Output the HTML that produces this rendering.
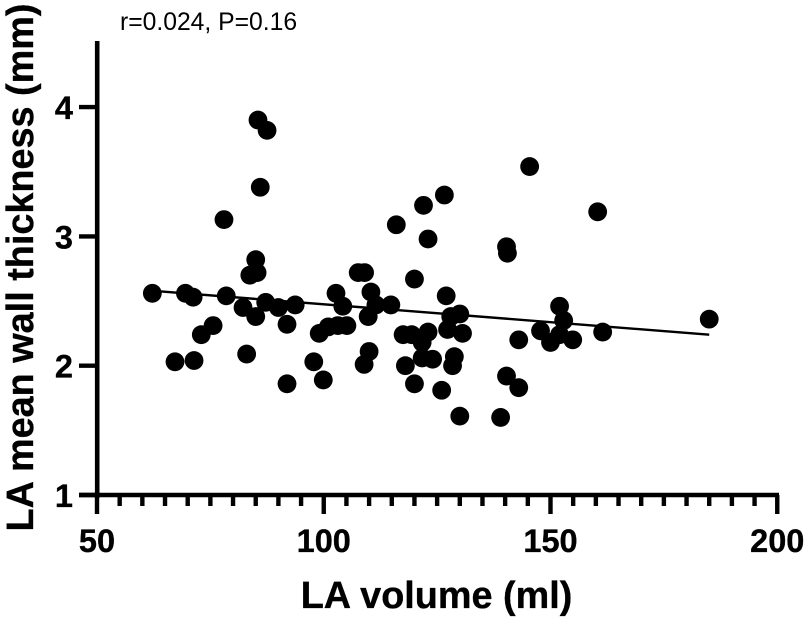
<!DOCTYPE html>
<html lang="en">
<head>
<meta charset="utf-8">
<title>LA mean wall thickness vs LA volume</title>
<style>
html,body{margin:0;padding:0;background:#fff;width:807px;height:622px;overflow:hidden}
svg{display:block}
text{font-family:"Liberation Sans",Arial,sans-serif;fill:#000}
.b{font-weight:bold;stroke:#000;stroke-width:.35px}
</style>
</head>
<body>
<svg id="chart" xmlns="http://www.w3.org/2000/svg" width="807" height="622" viewBox="0 0 807 622">
  <rect width="807" height="622" fill="#fff"/>
  <text x="120" y="30" font-size="24.7">r=0.024, P=0.16</text>
  <text class="b" font-size="37.8" text-anchor="middle" transform="translate(33,267.5) rotate(-90)">LA mean wall thickness (mm)</text>
  <text class="b" font-size="37.8" text-anchor="middle" x="436.5" y="608">LA volume (ml)</text>
  <g id="marks"></g>
  <g id="axes"></g>
</svg>
<script>
const xTickLabels = [50, 100, 150, 200];
const yTickLabels = [1, 2, 3, 4];
const xVolume = [62.2,67.2,69.5,71.2,71.4,73,75.6,78,78.5,82.2,83,83.7,85.3,85,85,85.5,86,87.2,87.5,90,91.9,91.9,93.7,97.8,99,99.9,101,102.7,103.1,104.2,105.1,107.6,109,108.9,109.8,110,110.4,111.5,114.8,116,117.5,118,119.4,120,120,121.7,122,121.7,123,123,124,126,126.6,127,127.3,128,128.4,128.8,130,130,130.6,139,140.3,140.5,140.3,143,143,145.4,147.8,150,152,152.9,152,154.9,160.4,161.5,185];
const yThickness = [2.56,2.03,2.56,2.53,2.04,2.24,2.31,3.13,2.54,2.45,2.09,2.70,2.72,2.82,2.38,3.90,3.38,2.49,3.82,2.45,2.32,1.86,2.47,2.03,2.25,1.89,2.30,2.56,2.31,2.46,2.31,2.72,2.72,2.01,2.38,2.11,2.57,2.47,2.47,3.09,2.24,2.00,2.24,2.67,1.86,2.18,3.24,2.06,2.98,2.26,2.05,1.81,3.32,2.54,2.28,2.38,2.00,2.07,2.40,1.61,2.25,1.60,2.92,2.87,1.92,2.20,1.83,3.54,2.27,2.18,2.46,2.35,2.24,2.20,3.19,2.26,2.36];
const fitX = [62, 185];
const fitY = [2.58, 2.24];

const NS = 'http://www.w3.org/2000/svg';
const xScale = v => 97 + (v - 50) * 4.535;
const yScale = v => 495 - (v - 1) * 129.3;
const marks = document.getElementById('marks');
const axes = document.getElementById('axes');

function make(tag, attrs, parent) {
  const el = document.createElementNS(NS, tag);
  for (const k in attrs) el.setAttribute(k, attrs[k]);
  parent.appendChild(el);
  return el;
}

const fit = make('line', {x1: xScale(fitX[0]), y1: yScale(fitY[0]), x2: xScale(fitX[1]), y2: yScale(fitY[1]), stroke: '#000', 'stroke-width': 2.4}, marks);



xVolume.forEach((x, i) => {
  const c = make('circle', {cx: xScale(x), cy: yScale(yThickness[i]), r: 9.4, fill: '#000'}, marks);
  
  
});

const yAxisLine = make('line', {x1: 97.2, y1: 41, x2: 97.2, y2: 498, stroke: '#000', 'stroke-width': 4.6}, axes);



const xAxisLine = make('line', {x1: 79, y1: 495, x2: 779, y2: 495, stroke: '#000', 'stroke-width': 4.6}, axes);



for (let v = xTickLabels[0]; v <= xTickLabels[xTickLabels.length - 1]; v += 5) {
  const major = xTickLabels.includes(v);
  const t = make('line', {x1: xScale(v), y1: 495, x2: xScale(v), y2: major ? 514 : 506, stroke: '#000', 'stroke-width': 4.4}, axes);
  
  
}

xTickLabels.forEach(v => {
  const t = make('text', {x: xScale(v), y: 552, 'font-size': 32.5, 'text-anchor': 'middle', class: 'b'}, axes);
  t.textContent = v;
  
  
});

yTickLabels.forEach(v => {
  const tick = make('line', {x1: 79, y1: yScale(v), x2: 97, y2: yScale(v), stroke: '#000', 'stroke-width': 4.4}, axes);
  
  
  const t = make('text', {x: 73, y: yScale(v) + 12, 'font-size': 32.5, 'text-anchor': 'end', class: 'b'}, axes);
  t.textContent = v;
  
  
});
</script>
</body>
</html>
